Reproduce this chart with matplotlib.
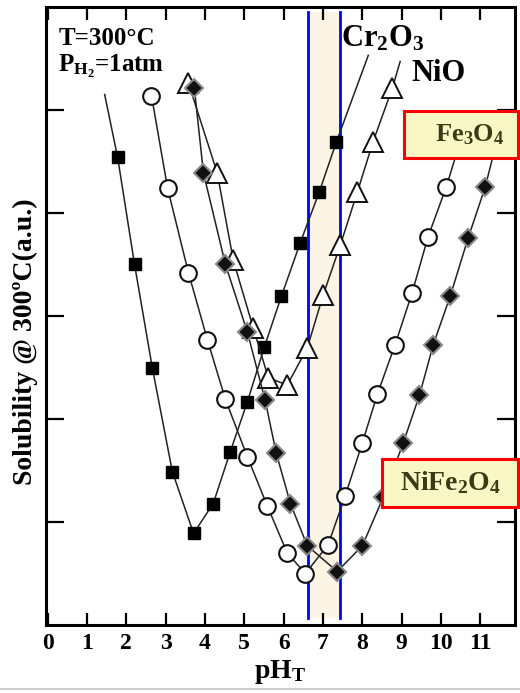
import matplotlib
matplotlib.use("Agg")
import matplotlib.pyplot as plt
from matplotlib.patches import Rectangle
from matplotlib.lines import Line2D

plt.rcParams['font.family'] = ['Liberation Serif', 'DejaVu Serif']
plt.rcParams['font.weight'] = 'bold'
plt.rcParams['mathtext.fontset'] = 'custom'
plt.rcParams['mathtext.rm'] = 'Liberation Serif:bold'
plt.rcParams['mathtext.bf'] = 'Liberation Serif:bold'
plt.rcParams['mathtext.it'] = 'Liberation Serif:bold'

# === datos (pH_T, solubilidad en u.a.) ===
cr_ph = [1.45, 1.78, 2.21, 2.66, 3.17, 3.71, 4.21, 4.64, 5.08, 5.51, 5.94, 6.42, 6.90, 7.34, 8.15]
cr_s = [5.15, 4.54, 3.50, 2.50, 1.49, 0.89, 1.18, 1.68, 2.17, 2.70, 3.19, 3.71, 4.20, 4.69, 5.53]

fe_ph = [2.64, 3.05, 3.58, 4.06, 4.52, 5.08, 5.58, 6.09, 6.55, 7.13, 7.56, 8.00, 8.38, 8.83,
         9.26, 9.67, 10.13, 10.45]
fe_s = [5.14, 4.24, 3.42, 2.77, 2.19, 1.63, 1.16, 0.70, 0.50, 0.78, 1.25, 1.77, 2.24, 2.72,
        3.22, 3.77, 4.25, 4.65]

nife_ph = [3.73, 3.96, 4.52, 5.08, 5.53, 5.81, 6.17, 6.60, 7.36, 8.00, 8.53, 9.04, 9.45, 9.80,
           10.23, 10.69, 11.12, 11.45]
nife_s = [5.21, 4.39, 3.50, 2.84, 2.18, 1.67, 1.18, 0.77, 0.52, 0.77, 1.24, 1.77, 2.23, 2.72,
          3.19, 3.76, 4.25, 4.75]

nio_ph = [3.58, 4.31, 4.72, 5.23, 5.61, 6.09, 6.60, 7.00, 7.44, 7.87, 8.27, 8.76, 8.96]
nio_s = [5.26, 4.39, 3.54, 2.88, 2.40, 2.33, 2.69, 3.20, 3.69, 4.20, 4.69, 5.21, 5.47]

# ventana de pH de operacion
ph_low, ph_high = 6.62, 7.44

x_ticks = list(range(0, 12))
y_ticks = [1, 2, 3, 4, 5]

fig = plt.figure(figsize=(5.2, 6.93), dpi=100)
ax = fig.add_axes([0.0885, 0.098, 0.902, 0.892])

# === banda y lineas azules ===
ax.fill_between([ph_low, ph_high], 0.07, 5.95, color='#FCF4E4', lw=0, zorder=0)
for xv in (ph_low, ph_high):
    ax.plot([xv, xv], [0.07, 5.95], color='#0000FF', lw=2, zorder=1)

line_kw = dict(color='#222222', lw=1.1, zorder=3)

ax.plot(cr_ph, cr_s, marker='s', ms=9, mfc='black', mec='black',
        markevery=list(range(1, len(cr_ph) - 1)), **line_kw)
ax.plot(fe_ph, fe_s, marker='o', ms=12, mfc='white', mec='#111111', mew=1.5,
        markevery=list(range(0, len(fe_ph) - 1)), **line_kw)
ax.plot(nio_ph, nio_s, marker='^', ms=14, mfc='white', mec='#111111', mew=1.4,
        markevery=list(range(0, len(nio_ph) - 1)), **line_kw)
ax.plot(nife_ph, nife_s, marker='D', ms=9, mfc='#111111', mec='#8a8a8a', mew=1.5,
        markevery=list(range(0, len(nife_ph) - 1)), **line_kw)

ax.set_xlim(-0.04, 11.88)
ax.set_ylim(0, 6.0)
ax.set_xticks(x_ticks)
ax.set_xticklabels([str(t) for t in x_ticks], fontsize=17, fontweight='bold')
ax.set_yticks(y_ticks)
ax.set_yticklabels([])
ax.tick_params(axis='x', direction='in', length=9, width=1.6, top=True, pad=6)
ax.tick_params(axis='y', direction='in', length=13, width=1.6, right=True)
for sp in ax.spines.values():
    sp.set_linewidth(2.2)

# === textos ===
ax.text(0.27, 5.63, 'T=300°C', fontsize=18, fontweight='bold', va='baseline')
ax.text(0.27, 5.37, r'P$_{\mathregular{H_2}}$=1atm', fontsize=18, fontweight='bold', va='baseline')
ax.text(7.45, 5.62, r'Cr$_\mathregular{2}$O$_\mathregular{3}$', fontsize=22, fontweight='bold', va='baseline')
ax.text(9.25, 5.28, 'NiO', fontsize=22, fontweight='bold', va='baseline')

# cajas con borde rojo
boxes = [(404, 111, 518, 158, r'Fe$_\mathregular{3}$O$_\mathregular{4}$', 470, 19),
         (382, 459, 518, 507, r'NiFe$_\mathregular{2}$O$_\mathregular{4}$', 450, 20)]
for x0, y0, x1, y1, lab, xc, fs in boxes:
    fig.add_artist(Rectangle((x0 / 520, 1 - y1 / 693), (x1 - x0) / 520, (y1 - y0) / 693,
                             transform=fig.transFigure, facecolor='#FAF7C6',
                             edgecolor='#FF0000', lw=2.2, zorder=10))
    fig.text(xc / 520, 1 - (y0 + y1) / 2 / 693, lab, fontsize=fs, fontweight='bold',
             color='#3A3A14', ha='center', va='center', zorder=11)

fig.text(280 / 520, 1 - 672 / 693, r'pH$_\mathregular{T}$', fontsize=20, fontweight='bold',
         ha='center', va='center')
fig.text(25 / 520, 1 - 342 / 693, 'Solubility @ 300ºC(a.u.)', fontsize=20, fontweight='bold',
         rotation=90, ha='center', va='center')

# linea gris fina al pie de la imagen
fig.add_artist(Line2D([0, 1], [1 - 689 / 693] * 2, transform=fig.transFigure,
                      color='#CCCCCC', lw=1.5))

fig.savefig('out.png', dpi=100)
